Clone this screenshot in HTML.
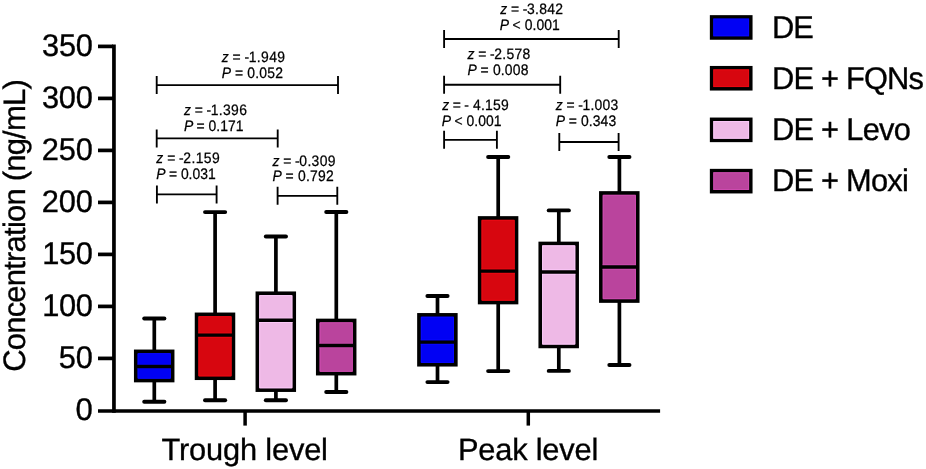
<!DOCTYPE html>
<html><head><meta charset="utf-8"><title>Figure</title>
<style>
html,body{margin:0;padding:0;background:#fff;}
body{width:926px;height:469px;overflow:hidden;}
svg{display:block;will-change:transform;}
text{font-family:"Liberation Sans",sans-serif;fill:#000;white-space:pre;text-rendering:geometricPrecision;}
.i{font-style:italic;}
</style></head><body>
<svg width="926" height="469" viewBox="0 0 926 469">
<rect x="0" y="0" width="926" height="469" fill="#fff"/>
<g stroke="#000" stroke-width="3.7" fill="none" stroke-linecap="butt">
<line x1="113.95" y1="44.55" x2="113.95" y2="412.65"/>
<line x1="98" y1="410.97" x2="660.1" y2="410.97" stroke-width="3.4"/>
<line x1="98" y1="46.40" x2="113" y2="46.40"/>
<line x1="98" y1="98.40" x2="113" y2="98.40"/>
<line x1="98" y1="150.40" x2="113" y2="150.40"/>
<line x1="98" y1="202.40" x2="113" y2="202.40"/>
<line x1="98" y1="254.40" x2="113" y2="254.40"/>
<line x1="98" y1="306.40" x2="113" y2="306.40"/>
<line x1="98" y1="358.40" x2="113" y2="358.40"/>
<line x1="245.1" y1="410" x2="245.1" y2="425.6" stroke-width="3.5"/>
<line x1="528.3" y1="410" x2="528.3" y2="425.6" stroke-width="3.5"/>
</g>
<text id="t350" font-size="30.80" stroke="#000" stroke-width="0.35" transform="translate(42.00,56.35) scale(1.000,1.015)" textLength="50.95" lengthAdjust="spacing">350</text>
<text id="t300" font-size="30.80" stroke="#000" stroke-width="0.35" transform="translate(41.90,108.35) scale(1.000,1.015)" textLength="51.05" lengthAdjust="spacing">300</text>
<text id="t250" font-size="30.80" stroke="#000" stroke-width="0.35" transform="translate(41.70,160.35) scale(1.000,1.015)" textLength="51.25" lengthAdjust="spacing">250</text>
<text id="t200" font-size="30.80" stroke="#000" stroke-width="0.35" transform="translate(41.70,212.35) scale(1.000,1.015)" textLength="51.25" lengthAdjust="spacing">200</text>
<text id="t150" font-size="30.80" stroke="#000" stroke-width="0.35" transform="translate(42.35,264.35) scale(1.000,1.015)" textLength="50.60" lengthAdjust="spacing">150</text>
<text id="t100" font-size="30.80" stroke="#000" stroke-width="0.35" transform="translate(42.35,316.35) scale(1.000,1.015)" textLength="50.60" lengthAdjust="spacing">100</text>
<text id="t50" font-size="30.80" stroke="#000" stroke-width="0.35" transform="translate(58.78,368.35) scale(1.000,1.015)" textLength="34.17" lengthAdjust="spacing">50</text>
<text id="t0" font-size="30.80" stroke="#000" stroke-width="0.35" transform="translate(75.54,420.35) scale(1.010,1.015)" textLength="18.72" lengthAdjust="spacing">0</text>
<text id="ylab" font-size="31.00" stroke="#000" stroke-width="0.35" transform="translate(25.30,371.80) rotate(-90)" textLength="292.55" lengthAdjust="spacing">Concentration (ng/mL)</text>
<text id="xl1" font-size="30.80" stroke="#000" stroke-width="0.35" transform="translate(161.50,459.60) scale(1.000,1.000)" textLength="166.45" lengthAdjust="spacing">Trough level</text>
<text id="xl2" font-size="30.80" stroke="#000" stroke-width="0.35" transform="translate(458.05,459.60) scale(1.000,1.000)" textLength="140.20" lengthAdjust="spacing">Peak level</text>
<text id="s0a" font-size="14.65" stroke="#000" stroke-width="0.25" transform="translate(221.85,61.50) scale(0.950,1.030)" textLength="66.47" lengthAdjust="spacing"><tspan class="i">z</tspan> <tspan dx="-0.8">=</tspan> <tspan dx="-0.9">-</tspan><tspan dx="-0.7">1</tspan>.949</text>
<text id="s0b" font-size="14.65" stroke="#000" stroke-width="0.25" transform="translate(221.85,77.70) scale(0.950,1.040)" textLength="64.26" lengthAdjust="spacing"><tspan class="i">P</tspan> <tspan dx="-0.5">=</tspan> 0.052</text>
<text id="s1a" font-size="14.65" stroke="#000" stroke-width="0.25" transform="translate(183.95,114.60) scale(0.950,1.030)" textLength="66.26" lengthAdjust="spacing"><tspan class="i">z</tspan> <tspan dx="-0.8">=</tspan> <tspan dx="-0.9">-</tspan><tspan dx="-0.7">1</tspan>.396</text>
<text id="s1b" font-size="14.65" stroke="#000" stroke-width="0.25" transform="translate(183.95,131.00) scale(0.950,1.040)" textLength="62.58" lengthAdjust="spacing"><tspan class="i">P</tspan> <tspan dx="-0.5">=</tspan> 0.171</text>
<text id="s2a" font-size="14.65" stroke="#000" stroke-width="0.25" transform="translate(156.35,162.80) scale(0.950,1.030)" textLength="66.68" lengthAdjust="spacing"><tspan class="i">z</tspan> <tspan dx="-0.8">=</tspan> <tspan dx="-0.9">-</tspan><tspan dx="-0.7">2</tspan>.159</text>
<text id="s2b" font-size="14.65" stroke="#000" stroke-width="0.25" transform="translate(156.25,178.80) scale(0.950,1.040)" textLength="62.58" lengthAdjust="spacing"><tspan class="i">P</tspan> <tspan dx="-0.5">=</tspan> 0.031</text>
<text id="s3a" font-size="14.65" stroke="#000" stroke-width="0.25" transform="translate(272.55,165.70) scale(0.950,1.030)" textLength="66.26" lengthAdjust="spacing"><tspan class="i">z</tspan> <tspan dx="-0.8">=</tspan> <tspan dx="-0.9">-</tspan><tspan dx="-0.7">0</tspan>.309</text>
<text id="s3b" font-size="14.65" stroke="#000" stroke-width="0.25" transform="translate(272.45,181.40) scale(0.950,1.040)" textLength="64.47" lengthAdjust="spacing"><tspan class="i">P</tspan> <tspan dx="-0.5">=</tspan> 0.792</text>
<text id="s4a" font-size="14.65" stroke="#000" stroke-width="0.25" transform="translate(500.35,13.90) scale(0.950,1.030)" textLength="66.05" lengthAdjust="spacing"><tspan class="i">z</tspan> <tspan dx="-0.8">=</tspan> <tspan dx="-0.9">-</tspan><tspan dx="-0.7">3</tspan>.842</text>
<text id="s4b" font-size="14.65" stroke="#000" stroke-width="0.25" transform="translate(499.85,29.60) scale(0.950,1.040)" textLength="63.11" lengthAdjust="spacing"><tspan class="i">P</tspan> <tspan dx="-0.5">&lt;</tspan> 0.001</text>
<text id="s5a" font-size="14.65" stroke="#000" stroke-width="0.25" transform="translate(467.55,58.90) scale(0.950,1.030)" textLength="66.05" lengthAdjust="spacing"><tspan class="i">z</tspan> <tspan dx="-0.8">=</tspan> <tspan dx="-0.9">-</tspan><tspan dx="-0.7">2</tspan>.578</text>
<text id="s5b" font-size="14.65" stroke="#000" stroke-width="0.25" transform="translate(467.45,75.00) scale(0.950,1.040)" textLength="64.26" lengthAdjust="spacing"><tspan class="i">P</tspan> <tspan dx="-0.5">=</tspan> 0.008</text>
<text id="s6a" font-size="14.65" stroke="#000" stroke-width="0.25" transform="translate(442.25,109.90) scale(0.950,1.030)" textLength="69.95" lengthAdjust="spacing"><tspan class="i">z</tspan> <tspan dx="-0.8">=</tspan> <tspan dx="-0.9">-</tspan> 4.159</text>
<text id="s6b" font-size="14.65" stroke="#000" stroke-width="0.25" transform="translate(441.75,126.20) scale(0.950,1.040)" textLength="62.89" lengthAdjust="spacing"><tspan class="i">P</tspan> <tspan dx="-0.5">&lt;</tspan> 0.001</text>
<text id="s7a" font-size="14.65" stroke="#000" stroke-width="0.25" transform="translate(555.85,109.80) scale(0.950,1.030)" textLength="65.74" lengthAdjust="spacing"><tspan class="i">z</tspan> <tspan dx="-0.8">=</tspan> <tspan dx="-0.9">-</tspan><tspan dx="-0.7">1</tspan>.003</text>
<text id="s7b" font-size="14.65" stroke="#000" stroke-width="0.25" transform="translate(555.75,126.10) scale(0.950,1.040)" textLength="63.63" lengthAdjust="spacing"><tspan class="i">P</tspan> <tspan dx="-0.5">=</tspan> 0.343</text>
<text id="l0" font-size="30.80" stroke="#000" stroke-width="0.35" transform="translate(771.95,37.65) scale(1.000,1.017)" textLength="41.80" lengthAdjust="spacing">DE</text>
<text id="l1" font-size="30.80" stroke="#000" stroke-width="0.35" transform="translate(771.95,88.55) scale(1.000,1.017)" textLength="152.05" lengthAdjust="spacing">DE + FQNs</text>
<text id="l2" font-size="30.80" stroke="#000" stroke-width="0.35" transform="translate(771.95,139.65) scale(1.000,1.017)" textLength="138.95" lengthAdjust="spacing">DE + Levo</text>
<text id="l3" font-size="30.80" stroke="#000" stroke-width="0.35" transform="translate(771.95,190.65) scale(1.000,1.017)" textLength="136.80" lengthAdjust="spacing">DE + Moxi</text>
<g stroke="#000" stroke-width="3.7" stroke-linecap="round">
<line x1="154.3" y1="318.5" x2="154.3" y2="351.4" stroke-linecap="butt"/><line x1="154.3" y1="380.5" x2="154.3" y2="401.7" stroke-linecap="butt"/><line x1="144.2" y1="318.5" x2="164.4" y2="318.5" stroke-width="3.9"/><line x1="144.2" y1="401.7" x2="164.4" y2="401.7" stroke-width="3.9"/><rect x="135.80" y="351.4" width="36.8" height="29.1" fill="#0101F4" stroke-linejoin="miter"/><path d="M138.10 353.70H170.30V378.20H138.10ZM137.60 364.30H170.80M137.60 368.70H170.80" fill="none" stroke="#0808FF" stroke-width="1" stroke-linecap="butt"/><line x1="135.80" y1="366.5" x2="172.6" y2="366.5" stroke-width="3.4" stroke-linecap="butt"/>
<line x1="215.1" y1="212.1" x2="215.1" y2="314.4" stroke-linecap="butt"/><line x1="215.1" y1="378.2" x2="215.1" y2="400.2" stroke-linecap="butt"/><line x1="205.0" y1="212.1" x2="225.2" y2="212.1" stroke-width="3.9"/><line x1="205.0" y1="400.2" x2="225.2" y2="400.2" stroke-width="3.9"/><rect x="196.60" y="314.4" width="36.8" height="63.8" fill="#D7060F" stroke-linejoin="miter"/><path d="M198.90 316.70H231.10V375.90H198.90ZM198.40 332.90H231.60M198.40 337.30H231.60" fill="none" stroke="#EC0913" stroke-width="1" stroke-linecap="butt"/><line x1="196.60" y1="335.1" x2="233.4" y2="335.1" stroke-width="3.4" stroke-linecap="butt"/>
<line x1="275.9" y1="236.5" x2="275.9" y2="293.3" stroke-linecap="butt"/><line x1="275.9" y1="390.1" x2="275.9" y2="400.2" stroke-linecap="butt"/><line x1="265.8" y1="236.5" x2="286.0" y2="236.5" stroke-width="3.9"/><line x1="265.8" y1="400.2" x2="286.0" y2="400.2" stroke-width="3.9"/><rect x="257.40" y="293.3" width="36.8" height="96.8" fill="#EEB9E6" stroke-linejoin="miter"/><path d="M259.70 295.60H291.90V387.80H259.70ZM259.20 318.10H292.40M259.20 322.50H292.40" fill="none" stroke="#FBC8F8" stroke-width="1" stroke-linecap="butt"/><line x1="257.40" y1="320.3" x2="294.2" y2="320.3" stroke-width="3.4" stroke-linecap="butt"/>
<line x1="336.3" y1="212.0" x2="336.3" y2="320.5" stroke-linecap="butt"/><line x1="336.3" y1="373.6" x2="336.3" y2="392.0" stroke-linecap="butt"/><line x1="326.2" y1="212.0" x2="346.4" y2="212.0" stroke-width="3.9"/><line x1="326.2" y1="392.0" x2="346.4" y2="392.0" stroke-width="3.9"/><rect x="317.80" y="320.5" width="36.8" height="53.1" fill="#BA449D" stroke-linejoin="miter"/><path d="M320.10 322.80H352.30V371.30H320.10ZM319.60 343.30H352.80M319.60 347.70H352.80" fill="none" stroke="#CE4CB0" stroke-width="1" stroke-linecap="butt"/><line x1="317.80" y1="345.5" x2="354.6" y2="345.5" stroke-width="3.4" stroke-linecap="butt"/>
<line x1="437.5" y1="296.0" x2="437.5" y2="314.9" stroke-linecap="butt"/><line x1="437.5" y1="364.7" x2="437.5" y2="382.1" stroke-linecap="butt"/><line x1="427.4" y1="296.0" x2="447.6" y2="296.0" stroke-width="3.9"/><line x1="427.4" y1="382.1" x2="447.6" y2="382.1" stroke-width="3.9"/><rect x="419.00" y="314.9" width="36.8" height="49.8" fill="#0101F4" stroke-linejoin="miter"/><path d="M421.30 317.20H453.50V362.40H421.30ZM420.80 339.90H454.00M420.80 344.30H454.00" fill="none" stroke="#0808FF" stroke-width="1" stroke-linecap="butt"/><line x1="419.00" y1="342.1" x2="455.8" y2="342.1" stroke-width="3.4" stroke-linecap="butt"/>
<line x1="498.2" y1="157.0" x2="498.2" y2="218.0" stroke-linecap="butt"/><line x1="498.2" y1="302.5" x2="498.2" y2="371.1" stroke-linecap="butt"/><line x1="488.1" y1="157.0" x2="508.3" y2="157.0" stroke-width="3.9"/><line x1="488.1" y1="371.1" x2="508.3" y2="371.1" stroke-width="3.9"/><rect x="479.70" y="218.0" width="36.8" height="84.5" fill="#D7060F" stroke-linejoin="miter"/><path d="M482.00 220.30H514.20V300.20H482.00ZM481.50 268.90H514.70M481.50 273.30H514.70" fill="none" stroke="#EC0913" stroke-width="1" stroke-linecap="butt"/><line x1="479.70" y1="271.1" x2="516.5" y2="271.1" stroke-width="3.4" stroke-linecap="butt"/>
<line x1="558.8" y1="210.4" x2="558.8" y2="243.5" stroke-linecap="butt"/><line x1="558.8" y1="346.4" x2="558.8" y2="370.9" stroke-linecap="butt"/><line x1="548.7" y1="210.4" x2="568.9" y2="210.4" stroke-width="3.9"/><line x1="548.7" y1="370.9" x2="568.9" y2="370.9" stroke-width="3.9"/><rect x="540.30" y="243.5" width="36.8" height="102.9" fill="#EEB9E6" stroke-linejoin="miter"/><path d="M542.60 245.80H574.80V344.10H542.60ZM542.10 269.80H575.30M542.10 274.20H575.30" fill="none" stroke="#FBC8F8" stroke-width="1" stroke-linecap="butt"/><line x1="540.30" y1="272.0" x2="577.1" y2="272.0" stroke-width="3.4" stroke-linecap="butt"/>
<line x1="619.4" y1="157.0" x2="619.4" y2="193.0" stroke-linecap="butt"/><line x1="619.4" y1="301.0" x2="619.4" y2="365.0" stroke-linecap="butt"/><line x1="609.3" y1="157.0" x2="629.5" y2="157.0" stroke-width="3.9"/><line x1="609.3" y1="365.0" x2="629.5" y2="365.0" stroke-width="3.9"/><rect x="600.90" y="193.0" width="36.8" height="108.0" fill="#BA449D" stroke-linejoin="miter"/><path d="M603.20 195.30H635.40V298.70H603.20ZM602.70 264.80H635.90M602.70 269.20H635.90" fill="none" stroke="#CE4CB0" stroke-width="1" stroke-linecap="butt"/><line x1="600.90" y1="267.0" x2="637.7" y2="267.0" stroke-width="3.4" stroke-linecap="butt"/>
</g>
<g stroke="#000" stroke-width="1.85" fill="none" stroke-linecap="butt">
<path d="M156.7 76.1V94.1M338.0 76.1V94.1M156.7 85.1H338.0"/>
<path d="M156.7 129.4V147.4M277.7 129.4V147.4M156.7 138.4H277.7"/>
<path d="M156.9 185.4V203.4M216.6 185.4V203.4M156.9 194.4H216.6"/>
<path d="M277.6 186.8V204.8M337.3 186.8V204.8M277.6 195.8H337.3"/>
<path d="M444.1 30.0V48.0M618.7 30.0V48.0M444.1 39.0H618.7"/>
<path d="M444.1 75.7V93.7M560.2 75.7V93.7M444.1 84.7H560.2"/>
<path d="M444.1 130.8V148.8M496.9 130.8V148.8M444.1 139.8H496.9"/>
<path d="M559.3 133.0V151.0M618.6 133.0V151.0M559.3 142.0H618.6"/>
</g>
<rect x="711.6" y="16.9" width="39.2" height="21.1" fill="#0101F4" stroke="#000" stroke-width="3.5"/>
<rect x="713.80" y="19.05" width="34.80" height="16.70" fill="none" stroke="#0808FF" stroke-width="1"/>
<rect x="711.6" y="67.7" width="39.2" height="21.1" fill="#D7060F" stroke="#000" stroke-width="3.5"/>
<rect x="713.80" y="69.85" width="34.80" height="16.70" fill="none" stroke="#EC0913" stroke-width="1"/>
<rect x="711.6" y="119.3" width="39.2" height="21.1" fill="#EEB9E6" stroke="#000" stroke-width="3.5"/>
<rect x="713.80" y="121.55" width="34.80" height="16.70" fill="none" stroke="#FBC8F8" stroke-width="1"/>
<rect x="711.6" y="170.6" width="39.2" height="21.1" fill="#BA449D" stroke="#000" stroke-width="3.5"/>
<rect x="713.80" y="172.75" width="34.80" height="16.70" fill="none" stroke="#CE4CB0" stroke-width="1"/>
</svg>
</body></html>
